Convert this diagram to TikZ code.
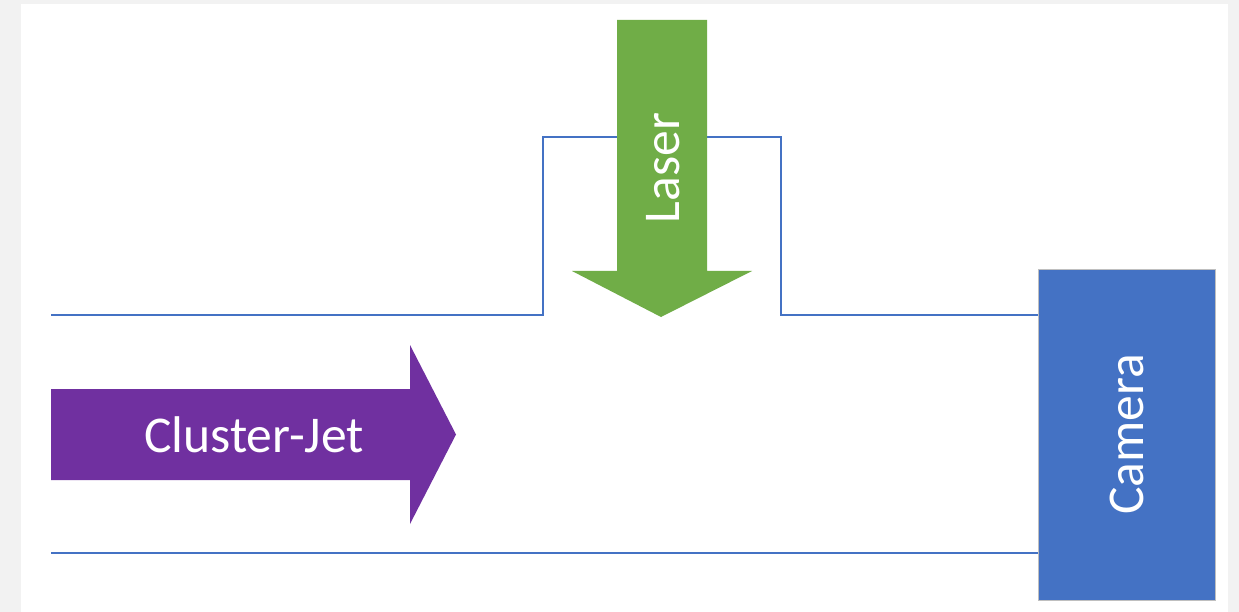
\documentclass[tikz,border=0pt]{standalone}
\usepackage{fontspec}
\setmainfont{Carlito}
\definecolor{pagegray}{HTML}{F2F2F2}
\definecolor{jetpurple}{HTML}{7030A0}
\definecolor{lasergreen}{HTML}{70AD47}
\definecolor{cambblue}{HTML}{4472C4}
\definecolor{edgegray}{HTML}{BFBFBF}
\begin{document}
\begin{tikzpicture}[x=1pt,y=-1pt,
  wall/.style={draw=cambblue,line width=1.2pt},
  label/.style={text=white,font=\fontsize{51.6}{60}\selectfont,inner sep=0pt},
  camerabox/.style={fill=cambblue,draw=edgegray,line width=0.8pt,rotate=90,
    minimum width=331pt,minimum height=177pt,inner sep=0pt,text=white,
    font=\fontsize{51.6}{60}\selectfont}]
\useasboundingbox (0,0) rectangle (1239,612);
\fill[pagegray] (0,0) rectangle (1239,612);
\fill[white] (21,4) rectangle (1228,612);
% camera
\node[camerabox] (camera) at (1126.5,434.5) {Camera};
% walls
\coordinate (tl) at (51,315);
\coordinate (bl) at (51,553);
\draw[wall] (tl) -- (543,315) -- (543,137) -- (781,137) -- (781,315) -- (camera.north |- tl);
\draw[wall] (bl) -- (camera.north |- bl);
% laser arrow
\fill[lasergreen] (617,20) -- (707,20) -- (707,271) -- (752,271) -- (661,317)
  -- (572,271) -- (617,271) -- cycle;
\node[label,rotate=90,anchor=base] (laser) at (679,168) {Laser};
% cluster-jet arrow
\fill[jetpurple] (51,389) -- (410,389) -- (410,345) -- (456,434.5) -- (410,524)
  -- (410,480) -- (51,480) -- cycle;
\node[label,anchor=base] (jet) at (254,452) {Cluster-Jet};
\end{tikzpicture}
\end{document}
